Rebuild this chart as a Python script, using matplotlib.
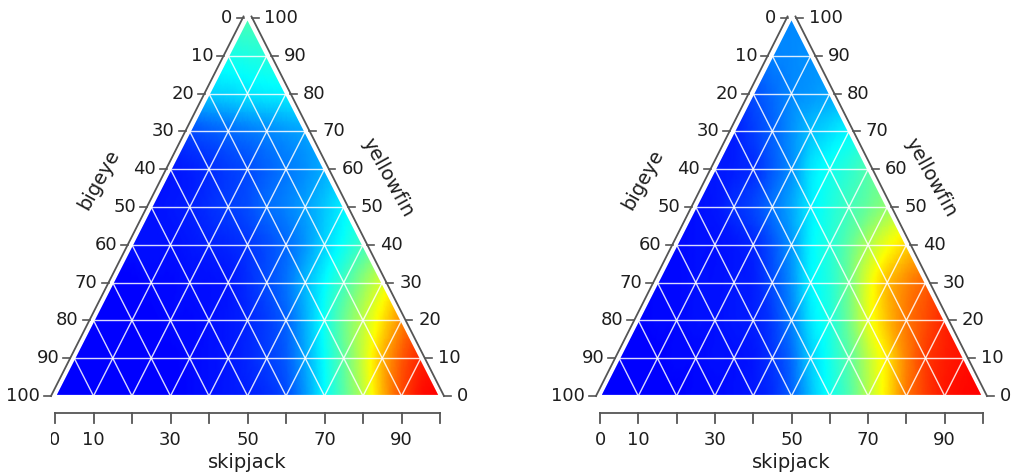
import numpy as np
import matplotlib
matplotlib.use("Agg")
import matplotlib.pyplot as plt
import matplotlib.tri as mtri
from matplotlib.colors import LinearSegmentedColormap
from matplotlib.transforms import Bbox, TransformedBbox

# ---------------- data ----------------
# rows at yellowfin = 0,10,...,100 ; within a row skipjack = 0,5,10,... up to 100-yellowfin
yellowfin_levels = [0, 10, 20, 30, 40, 50, 60, 70, 80, 90, 100]
skipjack_step = 5

# relative level (0 = blue ... 1 = red) of the left panel
left_rows = [
    [0.0, 0.0, 0.0, 0.0, 0.0, 0.0, 0.0, 0.01, 0.02, 0.03, 0.04, 0.06, 0.10, 0.20, 0.33, 0.45, 0.58, 0.76, 0.90, 0.98, 1.0],
    [0.0, 0.0, 0.0, 0.0, 0.0, 0.0, 0.01, 0.02, 0.03, 0.05, 0.08, 0.12, 0.22, 0.34, 0.46, 0.60, 0.76, 0.88, 0.95],
    [0.0, 0.0, 0.0, 0.0, 0.01, 0.01, 0.02, 0.03, 0.05, 0.08, 0.13, 0.23, 0.35, 0.47, 0.58, 0.70, 0.82],
    [0.0, 0.0, 0.01, 0.01, 0.02, 0.02, 0.03, 0.06, 0.10, 0.15, 0.24, 0.33, 0.42, 0.52, 0.62],
    [0.02, 0.02, 0.02, 0.03, 0.04, 0.05, 0.07, 0.10, 0.14, 0.20, 0.28, 0.35, 0.42],
    [0.02, 0.03, 0.04, 0.06, 0.08, 0.10, 0.14, 0.17, 0.21, 0.26, 0.32],
    [0.03, 0.04, 0.06, 0.08, 0.10, 0.13, 0.16, 0.19, 0.23],
    [0.10, 0.12, 0.14, 0.16, 0.18, 0.20, 0.22],
    [0.27, 0.28, 0.30, 0.31, 0.32],
    [0.36, 0.37, 0.38],
    [0.43],
]

# relative level of the right panel
right_rows = [
    [0.0, 0.0, 0.0, 0.0, 0.0, 0.01, 0.01, 0.02, 0.03, 0.06, 0.13, 0.25, 0.35, 0.44, 0.57, 0.70, 0.84, 0.92, 0.97, 0.99, 1.0],
    [0.0, 0.0, 0.0, 0.01, 0.01, 0.02, 0.02, 0.03, 0.07, 0.14, 0.27, 0.36, 0.45, 0.58, 0.70, 0.83, 0.92, 0.96, 0.98],
    [0.0, 0.01, 0.01, 0.02, 0.02, 0.03, 0.04, 0.08, 0.17, 0.30, 0.37, 0.48, 0.63, 0.75, 0.84, 0.90, 0.95],
    [0.01, 0.01, 0.02, 0.02, 0.03, 0.04, 0.10, 0.19, 0.32, 0.38, 0.48, 0.63, 0.75, 0.82, 0.87],
    [0.01, 0.02, 0.02, 0.03, 0.05, 0.11, 0.20, 0.32, 0.38, 0.46, 0.56, 0.65, 0.72],
    [0.02, 0.03, 0.06, 0.09, 0.15, 0.22, 0.31, 0.37, 0.42, 0.47, 0.53],
    [0.03, 0.04, 0.06, 0.12, 0.19, 0.30, 0.35, 0.39, 0.44],
    [0.04, 0.08, 0.13, 0.19, 0.25, 0.29, 0.33],
    [0.10, 0.14, 0.18, 0.20, 0.22],
    [0.17, 0.18, 0.19],
    [0.18],
]

tick_values = [0, 10, 20, 30, 40, 50, 60, 70, 80, 90, 100]
bottom_label_values = [0, 10, 30, 50, 70, 90]
title_bottom = "skipjack"
title_left = "bigeye"
title_right = "yellowfin"
palette = ["#0000ff", "#00ffff", "#ffff00", "#ff0000"]

# ---------------- figure ----------------
FW, FH = 1018, 474
DPI = 100
plt.rcParams['font.family'] = ['DejaVu Sans']
fig = plt.figure(figsize=(FW / DPI, FH / DPI), dpi=DPI)
cmap = LinearSegmentedColormap.from_list("tern", palette)

AX_COLOR = "#555555"
TXT_COLOR = "#1e1e1e"
TICK_FS = 13
TITLE_FS = 14


def draw_panel(left_px, width_px, rows, clip_zero=False):
    bottom_px = 78
    height_px = 378
    ax = fig.add_axes([left_px / FW, bottom_px / FH, width_px / FW, height_px / FH])
    ax.set_xlim(0, 100)
    ax.set_ylim(0, 100)
    ax.axis("off")
    kx = 100.0 / width_px   # data units per pixel
    ky = 100.0 / height_px

    # points of the lattice
    us, ys, zs = [], [], []
    for yf, row in zip(yellowfin_levels, rows):
        for j, v in enumerate(row):
            s = j * skipjack_step
            us.append(s + yf / 2.0)
            ys.append(yf)
            zs.append(v)
    us = np.array(us, float)
    ys = np.array(ys, float)
    zs = np.array(zs, float)
    tri = mtri.Triangulation(us, ys)
    interp = mtri.CubicTriInterpolator(tri, zs, kind="geom")
    refiner = mtri.UniformTriRefiner(tri)
    tri_f, z_f = refiner.refine_field(zs, triinterpolator=interp, subdiv=3)
    z_f = np.clip(z_f, 0, 1)
    ax.tripcolor(tri_f, z_f, shading="gouraud", cmap=cmap, vmin=0, vmax=1)

    # white grid
    gkw = dict(color="white", lw=1.0, alpha=0.85, solid_capstyle="butt")
    for k in tick_values[1:-1]:
        ax.plot([k / 2.0, 100 - k / 2.0], [k, k], **gkw)
        ax.plot([k, k + (100 - k) / 2.0], [0, 100 - k], **gkw)
        ax.plot([k, k / 2.0], [0, k], **gkw)
    ax.plot([0, 50, 100, 0], [0, 100, 0, 0], color="white", lw=1.6, clip_on=False)

    # left (bigeye) and right (yellowfin) axis lines
    off = 4 * kx
    ax.plot([0 - off, 50 - off], [0, 100.4], color=AX_COLOR, lw=1.3, clip_on=False)
    ax.plot([100 + off, 50 + off], [0, 100.4], color=AX_COLOR, lw=1.3, clip_on=False)
    for t in tick_values:
        ul = t / 2.0 - off
        ur = 100 - t / 2.0 + off
        ax.plot([ul, ul - 7 * kx], [t, t], color=AX_COLOR, lw=1.2, clip_on=False)
        ax.plot([ur, ur + 7 * kx], [t, t], color=AX_COLOR, lw=1.2, clip_on=False)
        ax.text(ul - 11 * kx, t, str(100 - t), ha="right", va="center",
                fontsize=TICK_FS, color=TXT_COLOR, clip_on=False)
        ax.text(ur + 13 * kx, t, str(t), ha="left", va="center",
                fontsize=TICK_FS, color=TXT_COLOR, clip_on=False)

    # bottom (skipjack) axis
    yb = -17 * ky
    ax.plot([0, 100], [yb, yb], color=AX_COLOR, lw=1.3, clip_on=False)
    for t in tick_values:
        ax.plot([t, t], [yb, yb - 10 * ky], color=AX_COLOR, lw=1.3, clip_on=False)
    for t in bottom_label_values:
        txt = ax.text(t, -44 * ky, str(t), ha="center", va="center",
                      fontsize=TICK_FS, color=TXT_COLOR)
        if clip_zero and t == 0:
            txt.set_clip_on(True)
            txt.set_clip_box(TransformedBbox(Bbox.from_extents(51.0 / FW, 0, 1, 1),
                                             fig.transFigure))
        else:
            txt.set_clip_on(False)
    ax.text(50, -66 * ky, title_bottom, ha="center", va="center",
            fontsize=TITLE_FS, color=TXT_COLOR, clip_on=False)

    # rotated side titles
    ax.text(11.3, 57.2, title_left, rotation=61, ha="center", va="center",
            rotation_mode="anchor", fontsize=TITLE_FS, color=TXT_COLOR, clip_on=False)
    ax.text(86.5, 57.7, title_right, rotation=-61, ha="center", va="center",
            rotation_mode="anchor", fontsize=TITLE_FS, color=TXT_COLOR, clip_on=False)
    return ax


draw_panel(55, 385, left_rows, clip_zero=True)
draw_panel(600, 383, right_rows)

fig.savefig("out.png", dpi=DPI, facecolor="white")
